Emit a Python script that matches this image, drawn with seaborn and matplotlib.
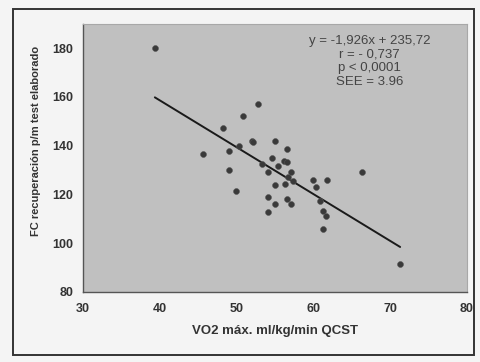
import matplotlib
matplotlib.use("Agg")
import matplotlib.pyplot as plt
import seaborn as sns
import numpy as np
import pandas as pd
from matplotlib.patches import Rectangle

vo2 = [39.4, 45.7, 48.3, 49.1, 49.1, 50.0, 50.3, 50.8, 52.0, 52.1, 52.8, 53.3,
       54.1, 54.1, 54.1, 54.6, 55.0, 55.0, 55.0, 55.4, 56.2, 56.6, 56.6, 56.3,
       56.7, 56.6, 57.1, 57.1, 57.4, 60.0, 60.4, 60.9, 61.3, 61.7, 61.3, 61.8,
       66.3, 71.3]
fc = [180.0, 136.6, 147.3, 138.0, 130.1, 121.2, 140.0, 152.1, 142.0, 141.4, 157.3, 132.6,
      129.0, 118.9, 112.7, 134.9, 142.1, 124.0, 116.0, 131.8, 133.8, 133.1, 138.7, 124.4,
      127.1, 118.2, 129.2, 116.0, 125.3, 126.0, 123.0, 117.1, 113.2, 111.2, 105.8, 126.0,
      129.2, 91.4]
slope = -1.926
intercept = 235.72
stats_lines = ["y = -1,926x + 235,72", "r = - 0,737", "p < 0,0001", "SEE = 3.96"]
x_ticks = [30, 40, 50, 60, 70, 80]
y_ticks = [80, 100, 120, 140, 160, 180]

df = pd.DataFrame({"vo2": vo2, "fc": fc})
xs = np.array([min(vo2), max(vo2)])
fit = pd.DataFrame({"x": xs, "y": slope * xs + intercept})

sns.set_style("white")
plt.rcParams["font.family"] = ["Liberation Sans", "DejaVu Sans"]

fig = plt.figure(figsize=(4.8, 3.62), dpi=100, facecolor="#f4f4f4")
ax = fig.add_axes([0.172, 0.194, 0.801, 0.740])
ax.set_facecolor("#c0c0c0")

sns.scatterplot(data=df, x="vo2", y="fc", ax=ax, color="#3a3a3a", s=18,
                edgecolor="#555555", linewidth=0.4, zorder=3)
sns.lineplot(data=fit, x="x", y="y", ax=ax, color="#1a1a1a", linewidth=1.4, zorder=2)

ax.set_xlim(30, 80)
ax.set_ylim(80, 190)
ax.set_xticks(x_ticks)
ax.set_yticks(y_ticks)
ax.tick_params(axis="both", labelsize=9, colors="#333333", length=3, direction="out",
               width=0.8)
for lab in ax.get_xticklabels() + ax.get_yticklabels():
    lab.set_fontweight("bold")
    lab.set_fontsize(9)
ax.tick_params(axis="x", pad=5)
ax.set_xlabel("VO2 máx. ml/kg/min QCST", fontsize=9.5, fontweight="bold", color="#333333",
              labelpad=7)
ax.set_ylabel("FC recuperación p/m test elaborado", fontsize=8, fontweight="bold",
              color="#333333", labelpad=8)
ax.yaxis.label.set_y(0.563)
for side in ["left", "bottom"]:
    ax.spines[side].set_color("#555555")
    ax.spines[side].set_linewidth(1.0)
for side in ["top", "right"]:
    ax.spines[side].set_color("#a8a8a8")
    ax.spines[side].set_linewidth(0.8)

ax.text(0.747, 0.96, "\n".join(stats_lines), transform=ax.transAxes, ha="center",
        va="top", fontsize=9.5, color="#444444", linespacing=1.2)

fig.patches.append(Rectangle((0.027, 0.02), 0.96, 0.955, transform=fig.transFigure,
                             fill=False, edgecolor="#333333", linewidth=1.4))

fig.savefig("out.png", dpi=100, facecolor=fig.get_facecolor())
